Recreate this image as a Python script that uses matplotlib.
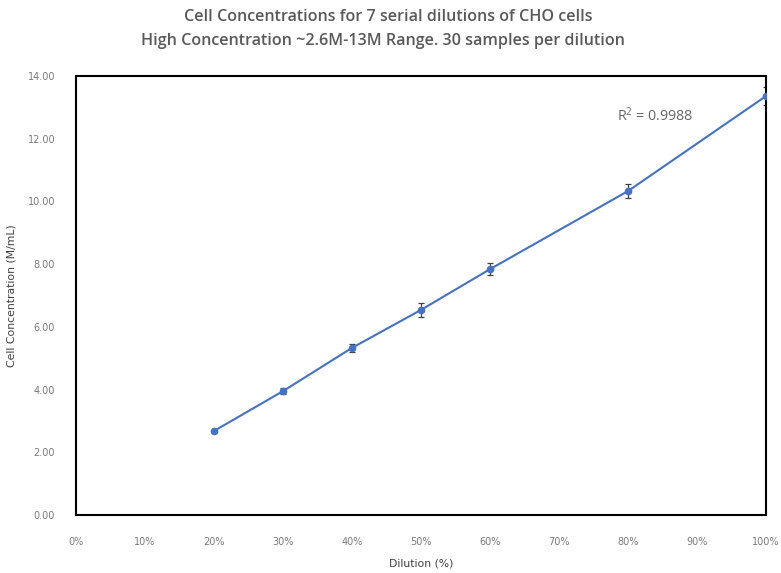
import matplotlib
matplotlib.use("Agg")
import matplotlib.pyplot as plt
from matplotlib.ticker import FuncFormatter, MultipleLocator

dilution = [20, 30, 40, 50, 60, 80, 100]
concentration = [2.68, 3.95, 5.33, 6.54, 7.84, 10.33, 13.36]
error = [0.04, 0.10, 0.12, 0.21, 0.19, 0.22, 0.30]
r2_label = "R$^2$ = 0.9988"
title_lines = ["Cell Concentrations for 7 serial dilutions of CHO cells",
               "High Concentration ~2.6M-13M Range. 30 samples per dilution"]

plt.rcParams['font.family'] = ['DejaVu Sans']
plt.rcParams['mathtext.fontset'] = 'custom'
plt.rcParams['mathtext.rm'] = 'Open Sans'
grey = '#595959'

fig = plt.figure(figsize=(7.81, 5.73), dpi=100)
ax = fig.add_axes([76/781, 1-515/573, 690/781, 439/573])

ax.plot(dilution, concentration, color='#4472C4', lw=1.5, marker='o', ms=4.5, zorder=3)
ax.errorbar(dilution, concentration, yerr=error, fmt='none', ecolor='#404040',
            elinewidth=0.9, capsize=2.5, capthick=0.9, zorder=2)

ax.set_xlim(0, 100)
ax.set_ylim(0, 14)
ax.xaxis.set_major_locator(MultipleLocator(10))
ax.yaxis.set_major_locator(MultipleLocator(2))
ax.xaxis.set_major_formatter(FuncFormatter(lambda v, p: f"{v:.0f}%"))
ax.yaxis.set_major_formatter(FuncFormatter(lambda v, p: f"{v:.2f}"))
ax.tick_params(length=0, labelsize=7, colors='#7a7a7a', pad=0)
ax.tick_params(axis='x', pad=16)
ax.tick_params(axis='y', pad=15)
for s in ax.spines.values():
    s.set_linewidth(1.5)
    s.set_color('black')

ax.set_xlabel("Dilution (%)", fontsize=7.8, color='#404040', labelpad=8)
ax.set_ylabel("Cell Concentration (M/mL)", fontsize=7.8, color='#404040', labelpad=8)

ax.text(78.4, 12.72, r2_label, fontsize=10.3, color='#666666', va='center', ha='left',
        family='Open Sans')

fig.text(388/781, 1-17/573, title_lines[0], ha='center', va='center', fontsize=11.6,
         color=grey, fontweight='semibold', family='Open Sans')
fig.text(383/781, 1-41/573, title_lines[1], ha='center', va='center', fontsize=11.6,
         color=grey, fontweight='semibold', family='Open Sans')

fig.savefig("out.png", dpi=100)
